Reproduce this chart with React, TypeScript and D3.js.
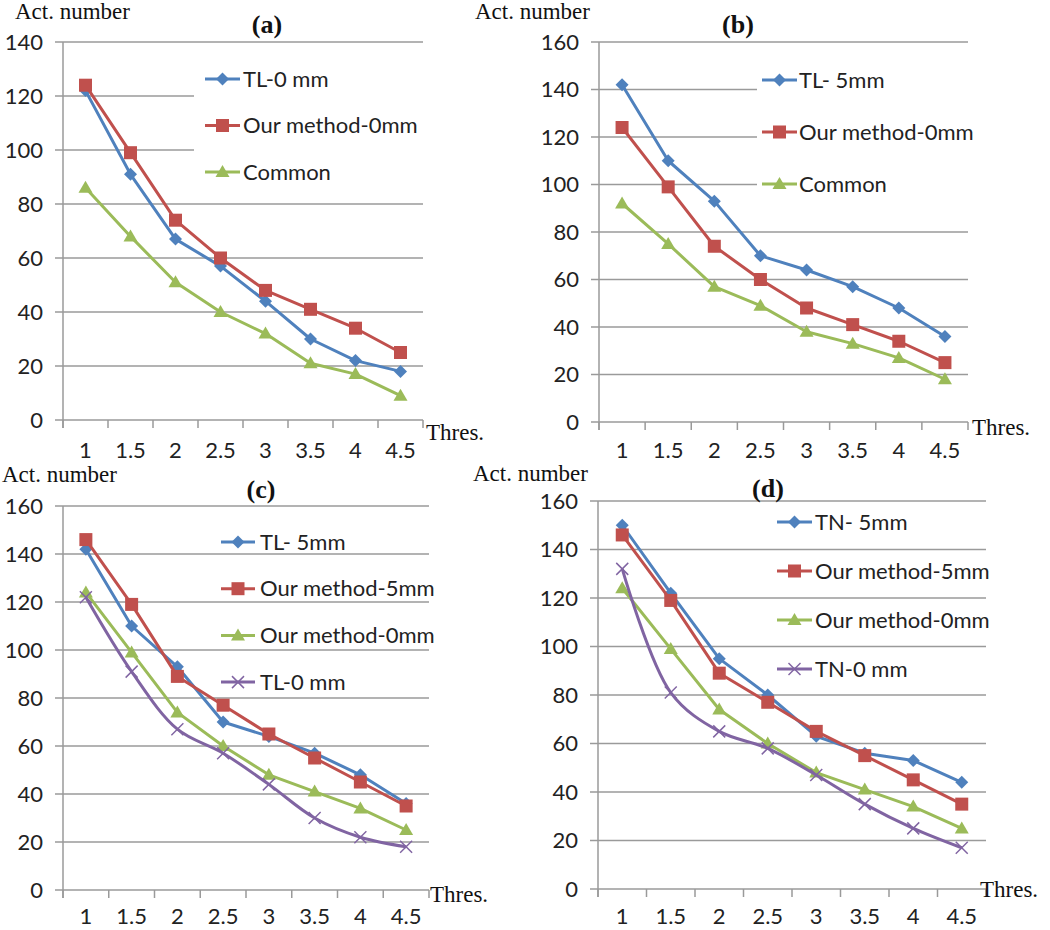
import React from "react";
import * as d3 from "d3";

const categories = ["1", "1.5", "2", "2.5", "3", "3.5", "4", "4.5"];

const tl0mm = [122, 91, 67, 57, 44, 30, 22, 18];
const our0mm = [124, 99, 74, 60, 48, 41, 34, 25];
const commonA = [86, 68, 51, 40, 32, 21, 17, 9];
const tl5mm = [142, 110, 93, 70, 64, 57, 48, 36];
const commonB = [92, 75, 57, 49, 38, 33, 27, 18];
const our5mm = [146, 119, 89, 77, 65, 55, 45, 35];
const tn5mm = [150, 122, 95, 80, 63, 56, 53, 44];
const tn0mm = [132, 81, 65, 58, 47, 35, 25, 17];

const yTicksA = [0, 20, 40, 60, 80, 100, 120, 140];
const yTicksB = [0, 20, 40, 60, 80, 100, 120, 140, 160];

const BLUE = "#4F81BD";
const RED = "#C0504D";
const GREEN = "#9BBB59";
const PURPLE = "#8064A2";
const GRID = "#9a9a9a";
const SANS = "Lato, 'Open Sans', sans-serif";
const SERIF = "'Liberation Serif', 'Times New Roman', serif";

type Series = { name: string; values: number[]; color: string; marker: string; smooth?: boolean };

const panels = [
  {
    tag: "(a)",
    x0: 63, x1: 423, yTop: 42, yZero: 420, yMax: 140, ticks: yTicksA,
    titleX: 15, titleY: 19, tagX: 267, tagY: 33, thresX: 426, thresY: 440, xLabY: 458,
    legend: { lx0: 205, lx1: 240, tx: 243, y0: 79, dy: 46.5, bg: [194, 58, 232, 134] },
    series: [
      { name: "TL-0 mm", values: tl0mm, color: BLUE, marker: "diamond" },
      { name: "Our method-0mm", values: our0mm, color: RED, marker: "square" },
      { name: "Common", values: commonA, color: GREEN, marker: "triangle" },
    ] as Series[],
  },
  {
    tag: "(b)",
    x0: 599, x1: 968, yTop: 42, yZero: 422, yMax: 160, ticks: yTicksB,
    titleX: 475, titleY: 19, tagX: 738, tagY: 33, thresX: 972, thresY: 435, xLabY: 458,
    legend: { lx0: 762, lx1: 797, tx: 799, y0: 80, dy: 52, bg: [757, 60, 214, 150] },
    series: [
      { name: "TL- 5mm", values: tl5mm, color: BLUE, marker: "diamond" },
      { name: "Our method-0mm", values: our0mm, color: RED, marker: "square" },
      { name: "Common", values: commonB, color: GREEN, marker: "triangle" },
    ] as Series[],
  },
  {
    tag: "(c)",
    x0: 63, x1: 429, yTop: 506, yZero: 890, yMax: 160, ticks: yTicksB,
    titleX: 2, titleY: 482, tagX: 261, tagY: 498, thresX: 430, thresY: 902, xLabY: 924,
    legend: { lx0: 221, lx1: 255, tx: 260, y0: 542, dy: 46.7, bg: null },
    series: [
      { name: "TL- 5mm", values: tl5mm, color: BLUE, marker: "diamond" },
      { name: "Our method-5mm", values: our5mm, color: RED, marker: "square" },
      { name: "Our method-0mm", values: our0mm, color: GREEN, marker: "triangle" },
      { name: "TL-0 mm", values: tl0mm, color: PURPLE, marker: "x", smooth: true },
    ] as Series[],
  },
  {
    tag: "(d)",
    x0: 598, x1: 986, yTop: 501, yZero: 889, yMax: 160, ticks: yTicksB,
    titleX: 473, titleY: 481, tagX: 768, tagY: 497, thresX: 980, thresY: 897, xLabY: 924,
    legend: { lx0: 777, lx1: 812, tx: 815, y0: 522, dy: 49, bg: null },
    series: [
      { name: "TN- 5mm", values: tn5mm, color: BLUE, marker: "diamond" },
      { name: "Our method-5mm", values: our5mm, color: RED, marker: "square" },
      { name: "Our method-0mm", values: our0mm, color: GREEN, marker: "triangle" },
      { name: "TN-0 mm", values: tn0mm, color: PURPLE, marker: "x", smooth: true },
    ] as Series[],
  },
];

function Marker({ type, x, y, color }: { type: string; x: number; y: number; color: string }) {
  if (type === "diamond") {
    const r = 6.5;
    return <path d={`M${x},${y - r}L${x + r},${y}L${x},${y + r}L${x - r},${y}Z`} fill={color} />;
  }
  if (type === "square") {
    return <rect x={x - 6.5} y={y - 6.5} width={13} height={13} fill={color} />;
  }
  if (type === "triangle") {
    return <path d={`M${x},${y - 7}L${x + 7},${y + 5}L${x - 7},${y + 5}Z`} fill={color} />;
  }
  const r = 6;
  return (
    <g stroke={color} strokeWidth={1.5}>
      <line x1={x - r} y1={y - r} x2={x + r} y2={y + r} />
      <line x1={x - r} y1={y + r} x2={x + r} y2={y - r} />
    </g>
  );
}

function Panel({ p }: { p: (typeof panels)[number] }) {
  const x = d3.scaleBand<string>().domain(categories).range([p.x0, p.x1]).paddingInner(0).paddingOuter(0);
  const y = d3.scaleLinear().domain([0, p.yMax]).range([p.yZero, p.yTop]);
  const bw = x.bandwidth();
  const cx = (c: string) => (x(c) as number) + bw / 2;
  const boundaries = [...categories.map((c) => x(c) as number), p.x1];
  const lg = p.legend;
  return (
    <g>
      {p.ticks.map((t) => (
        <g key={t}>
          <line x1={p.x0 - 8} x2={p.x1} y1={y(t)} y2={y(t)} stroke={GRID} strokeWidth={1.5} />
          <text x={p.x0 - 20} y={y(t)} dy="0.35em" textAnchor="end" fontFamily={SANS} fontSize={22} fill="#222">
            {t}
          </text>
        </g>
      ))}
      <line x1={p.x0} x2={p.x0} y1={p.yTop} y2={p.yZero + 8} stroke={GRID} strokeWidth={1.5} />
      {boundaries.map((b, i) => (
        <line key={i} x1={b} x2={b} y1={p.yZero} y2={p.yZero + 8} stroke={GRID} strokeWidth={1.5} />
      ))}
      {categories.map((c) => (
        <text key={c} x={cx(c)} y={p.xLabY} textAnchor="middle" fontFamily={SANS} fontSize={22} fill="#222">
          {c}
        </text>
      ))}
      {lg.bg && <rect x={lg.bg[0]} y={lg.bg[1]} width={lg.bg[2]} height={lg.bg[3]} fill="#fff" />}
      {p.series.map((s) => {
        const line = d3
          .line<number>()
          .x((_, i) => cx(categories[i]))
          .y((v) => y(v))
          .curve(s.smooth ? d3.curveCatmullRom.alpha(0.5) : d3.curveLinear);
        return (
          <g key={s.name}>
            <path d={line(s.values) || ""} fill="none" stroke={s.color} strokeWidth={3} strokeLinejoin="round" />
            {s.values.map((v, i) => (
              <Marker key={i} type={s.marker} x={cx(categories[i])} y={y(v)} color={s.color} />
            ))}
          </g>
        );
      })}
      {p.series.map((s, i) => {
        const ly = lg.y0 + i * lg.dy;
        return (
          <g key={"lg" + i}>
            <line x1={lg.lx0} x2={lg.lx1} y1={ly} y2={ly} stroke={s.color} strokeWidth={3} />
            <Marker type={s.marker} x={(lg.lx0 + lg.lx1) / 2} y={ly} color={s.color} />
            <text x={lg.tx} y={ly} dy="0.35em" fontFamily={SANS} fontSize={22} fill="#222">
              {s.name}
            </text>
          </g>
        );
      })}
      <text x={p.titleX} y={p.titleY} fontFamily={SERIF} fontSize={23} fill="#111">
        Act. number
      </text>
      <text x={p.tagX} y={p.tagY} textAnchor="middle" fontFamily={SERIF} fontWeight="bold" fontSize={26} fill="#111">
        {p.tag}
      </text>
      <text x={p.thresX} y={p.thresY} fontFamily={SERIF} fontSize={23} fill="#111">
        Thres.
      </text>
    </g>
  );
}

export default function App() {
  return (
    <svg
      width={1050}
      height={930}
      style={{ position: "absolute", left: 0, top: 0, background: "#fff" }}
    >
      <rect width={1050} height={930} fill="#fff" />
      {panels.map((p) => (
        <Panel key={p.tag} p={p} />
      ))}
    </svg>
  );
}
